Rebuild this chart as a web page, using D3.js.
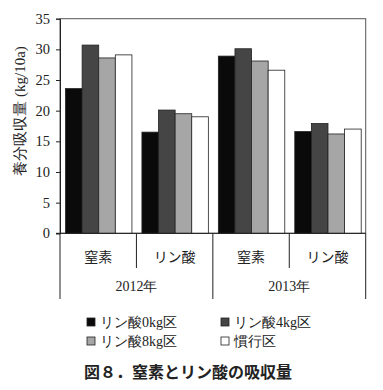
<!DOCTYPE html>
<html><head><meta charset="utf-8">
<script src="https://cdn.jsdelivr.net/npm/d3@7"></script>
<style>
body{margin:0;background:#fff;}
svg{display:block;}
</style></head>
<body><svg id="c" width="383" height="390"></svg>
<script>
const categories = ["窒素","リン酸","窒素","リン酸"];
const years = ["2012年","2013年"];
const seriesNames = ["リン酸0kg区","リン酸4kg区","リン酸8kg区","慣行区"];
const s0 = [23.6, 16.5, 28.9, 16.6];
const s1 = [30.7, 20.1, 30.1, 17.9];
const s2 = [28.6, 19.5, 28.1, 16.2];
const s3 = [29.1, 19.0, 26.6, 17.0];
const yTicks = [0,5,10,15,20,25,30,35];
const yLabel = "養分吸収量 (kg/10a)";
const title = "図８．窒素とリン酸の吸収量";
const colors = ["#0a0a0a","#454545","#a6a6a6","#ffffff"];

const series = [s0,s1,s2,s3];
const svg = d3.select("#c");
const L=60, R=365.7, T=18.7, B=233.3;
const serif = "'Liberation Serif','DejaVu Serif',serif";
const jp = "'Noto Sans CJK JP','Noto Sans',sans-serif";

const x0 = d3.scaleBand().domain(d3.range(categories.length)).range([L,R]);
const x1 = d3.scaleBand().domain(d3.range(series.length)).range([5.5, x0.bandwidth()-4.5]);
const y = d3.scaleLinear().domain([0,35]).range([B,T]);

// frame
svg.append("rect").attr("x",L).attr("y",T).attr("width",R-L).attr("height",B-T)
  .attr("fill","none").attr("stroke","#555").attr("stroke-width",1);

// bars
const g = svg.append("g");
series.forEach((s,si)=>{
  g.selectAll(null).data(s).enter().append("rect")
    .attr("x",(d,i)=>x0(i)+x1(si))
    .attr("y",d=>y(d))
    .attr("width",x1.bandwidth())
    .attr("height",d=>B-y(d))
    .attr("fill",colors[si])
    .attr("stroke","#222").attr("stroke-width",0.8);
});

// y axis
const ya = svg.append("g").attr("transform",`translate(${L},0)`)
  .call(d3.axisLeft(y).tickValues(yTicks).tickSize(4).tickPadding(6));
ya.select(".domain").attr("stroke","#222");
ya.selectAll(".tick line").attr("stroke","#222");
ya.selectAll("text").attr("font-family",serif).attr("font-size",14.5).attr("fill","#222");

// y label
svg.append("text").attr("transform",`translate(20,111) rotate(-90)`)
  .attr("text-anchor","middle").attr("dy","0.35em").attr("font-family",serif).attr("font-size",15).attr("fill","#222")
  .text(yLabel);

// category axis lines
svg.append("line").attr("x1",L-4).attr("x2",R).attr("y1",B).attr("y2",B).attr("stroke","#222");
const catBottom = 268, yearBottom = 299;
d3.range(categories.length+1).forEach(i=>{
  const xv = i<categories.length ? x0(i) : R;
  const isYear = (i%2===0);
  svg.append("line").attr("x1",xv).attr("x2",xv).attr("y1",B).attr("y2",isYear?yearBottom:catBottom)
    .attr("stroke","#222");
});
svg.selectAll(".cat").data(categories).enter().append("text")
  .attr("x",(d,i)=>x0(i)+x0.bandwidth()/2).attr("y",257).attr("dy","0.35em")
  .attr("text-anchor","middle").attr("font-family",jp).attr("font-size",14).attr("fill","#222")
  .text(d=>d);
svg.selectAll(".yr").data(years).enter().append("text")
  .attr("x",(d,i)=>(x0(i*2)+x0(i*2)+2*x0.bandwidth())/2).attr("y",286).attr("dy","0.35em")
  .attr("text-anchor","middle").attr("font-family",serif).attr("font-size",14).attr("fill","#222")
  .text(d=>d);

// legend
const legPos = [[87,322],[221,322],[87,341],[221,341]];
seriesNames.forEach((n,i)=>{
  const [lx,ly] = legPos[i];
  svg.append("rect").attr("x",lx).attr("y",ly-4).attr("width",8).attr("height",8)
    .attr("fill",colors[i]).attr("stroke","#222").attr("stroke-width",0.8);
  svg.append("text").attr("x",lx+13).attr("y",ly).attr("dy","0.35em")
    .attr("font-family",serif).attr("font-size",14).attr("fill","#222").text(n);
});

// title
svg.append("text").attr("x",84).attr("y",372).attr("dy","0.35em")
  .attr("font-family",jp).attr("font-weight","bold").attr("font-size",16).attr("fill","#222")
  .text(title);
</script></body></html>
